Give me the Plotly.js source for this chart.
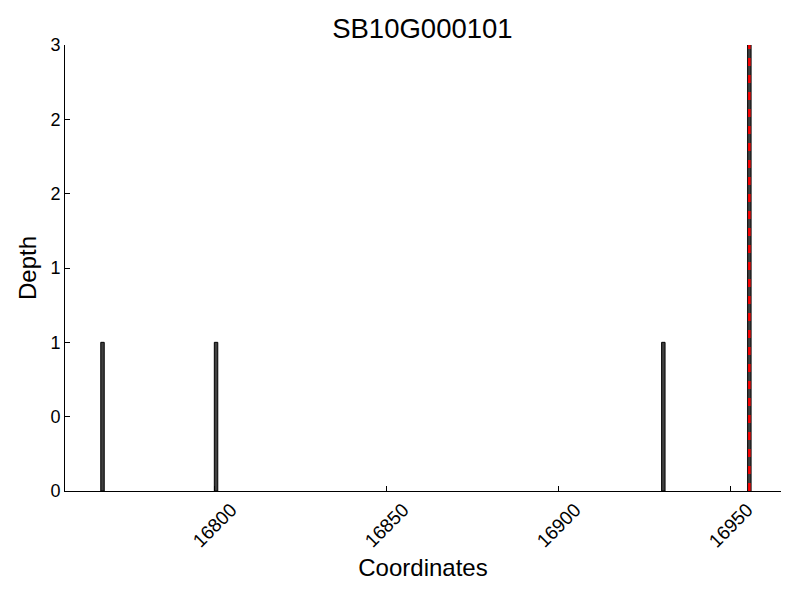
<!DOCTYPE html>
<html>
<head>
<meta charset="utf-8">
<script src="https://cdn.plot.ly/plotly-3.0.1.min.js"></script>
<style>html,body{margin:0;padding:0;background:#fff;}#chart{width:800px;height:600px;}</style>
</head>
<body>
<div id="chart"></div>
<script>
const positions = [16767.5, 16800.5, 16930.5, 16955.5];
const depths = [1, 1, 1, 3];
const markerPosition = 16955.5;
const yTickValues = [0, 0.5, 1, 1.5, 2, 2.5, 3];
const yTickLabels = ["0", "0", "1", "1", "2", "2", "3"];
const xTickValues = [16800, 16850, 16900, 16950];
const xTickLabels = ["16800", "16850", "16900", "16950"];

const font = "Liberation Sans, Arial, Helvetica, sans-serif";

const data = [{
  type: "bar",
  x: positions,
  y: depths,
  width: 1,
  marker: {color: "#404040", line: {color: "#000000", width: 1}},
  hoverinfo: "x+y"
}];

// rotated tick labels centred on their ticks (as in the reference)
const tickAnnotations = xTickValues.map((v, i) => ({
  x: v, xref: "x", y: 0, yref: "paper",
  text: xTickLabels[i], showarrow: false,
  textangle: -45, xanchor: "center", yanchor: "middle",
  yshift: -34, font: {size: 19, family: font, color: "#000"}
}));

const layout = {
  width: 800, height: 600,
  margin: {l: 65, r: 19, t: 45, b: 109},
  paper_bgcolor: "#ffffff", plot_bgcolor: "#ffffff",
  showlegend: false,
  font: {family: font, color: "#000"},
  title: {text: "SB10G000101", font: {size: 27.5, family: font, color: "#000"},
          x: 0.528, xanchor: "center", yref: "container", y: 0.952, yanchor: "middle"},
  xaxis: {
    range: [16756.6, 16964.7],
    tickvals: xTickValues, showticklabels: false,
    ticks: "inside", ticklen: 5, tickcolor: "#000",
    showline: true, linecolor: "#000", linewidth: 1,
    showgrid: false, zeroline: false, mirror: false,
    title: {text: "Coordinates", font: {size: 24, family: font}, standoff: 68}
  },
  yaxis: {
    range: [0, 3],
    tickvals: yTickValues, ticktext: yTickLabels,
    ticks: "inside", ticklen: 5, tickcolor: "#000",
    showline: true, linecolor: "#000", linewidth: 1,
    showgrid: false, zeroline: false,
    tickfont: {size: 18, family: font},
    title: {text: "Depth", font: {size: 24, family: font}, standoff: 6}
  },
  annotations: tickAnnotations,
  shapes: [{
    type: "line", xref: "x", yref: "paper",
    x0: markerPosition, x1: markerPosition, y0: 0, y1: 1,
    line: {color: "#ff0000", width: 2.5, dash: "8px,9px"},
    layer: "above"
  }]
};

Plotly.newPlot("chart", data, layout, {displayModeBar: false, staticPlot: true});
</script>
</body>
</html>
